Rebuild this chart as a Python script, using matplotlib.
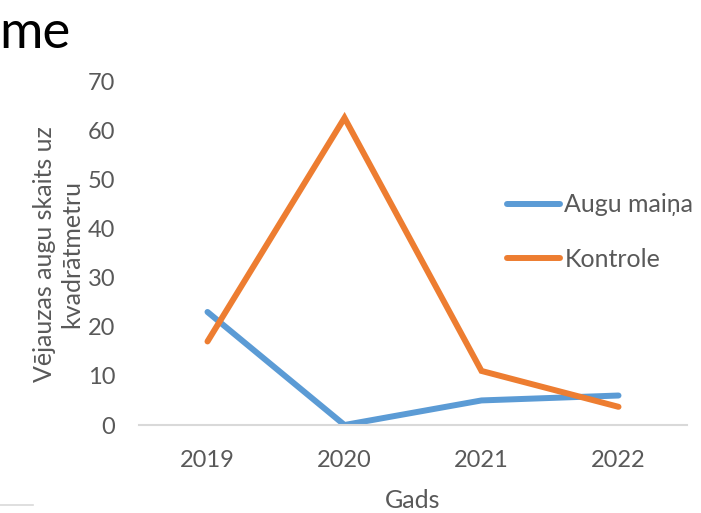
import numpy as np
import matplotlib
matplotlib.use('Agg')
import matplotlib.pyplot as plt
from matplotlib.lines import Line2D

plt.rcParams['font.family'] = ['Lato', 'DejaVu Sans']

# data
years = ['2019', '2020', '2021', '2022']
augu_maina = [23, 0, 5, 6]
kontrole = [17, 62.5, 11, 3.7]

blue = '#5B9BD5'
orange = '#ED7D31'
grey = '#595959'

fig = plt.figure(figsize=(7.01, 5.13), dpi=100)
ax = fig.add_axes([139 / 701, 1 - 425 / 513, (687 - 139) / 701, (425 - 81) / 513])

x = np.arange(len(years))
ax.plot(x, augu_maina, color=blue, lw=4.3, solid_capstyle='round',
        solid_joinstyle='miter', label='Augu maiņa')
ax.plot(x, kontrole, color=orange, lw=4.3, solid_capstyle='round',
        solid_joinstyle='miter', label='Kontrole')

ax.set_xlim(-0.5, 3.5)
ax.set_ylim(0, 70)
ax.set_xticks(x)
ax.set_xticklabels(years)
ax.set_yticks(np.arange(0, 71, 10))
ax.tick_params(length=0, labelsize=17, labelcolor=grey)
ax.tick_params(axis='x', pad=18)
ax.tick_params(axis='y', pad=17)

for s in ['top', 'right', 'left']:
    ax.spines[s].set_visible(False)
ax.spines['bottom'].set_color('#D9D9D9')
ax.spines['bottom'].set_linewidth(1.5)

# axis titles
fig.text(413 / 701, 1 - 500 / 513, 'Gads', ha='center', va='center',
         fontsize=18, color=grey)
fig.text(58 / 701, 1 - 254 / 513, 'Vējauzas augu skaits uz\nkvadrātmetru',
         ha='center', va='center', rotation=90, fontsize=18, color=grey,
         linespacing=1.25)

# cropped chart title
fig.text(-1 / 701, 1 - 48 / 513, 'me', ha='left', va='baseline', fontsize=38,
         color='black')

# stray border line bottom-left
fig.add_artist(Line2D([0, 33 / 701], [1 - 505 / 513, 1 - 505 / 513],
                      color='#D9D9D9', lw=1.2, transform=fig.transFigure))

ax.legend(loc='center left', bbox_to_anchor=(497 / 701, 1 - 232 / 513),
          bbox_transform=fig.transFigure, frameon=False, fontsize=18,
          labelcolor=grey, handlelength=2.1, handletextpad=0.2,
          labelspacing=1.25, borderaxespad=0)

fig.savefig('out.png', dpi=100)
